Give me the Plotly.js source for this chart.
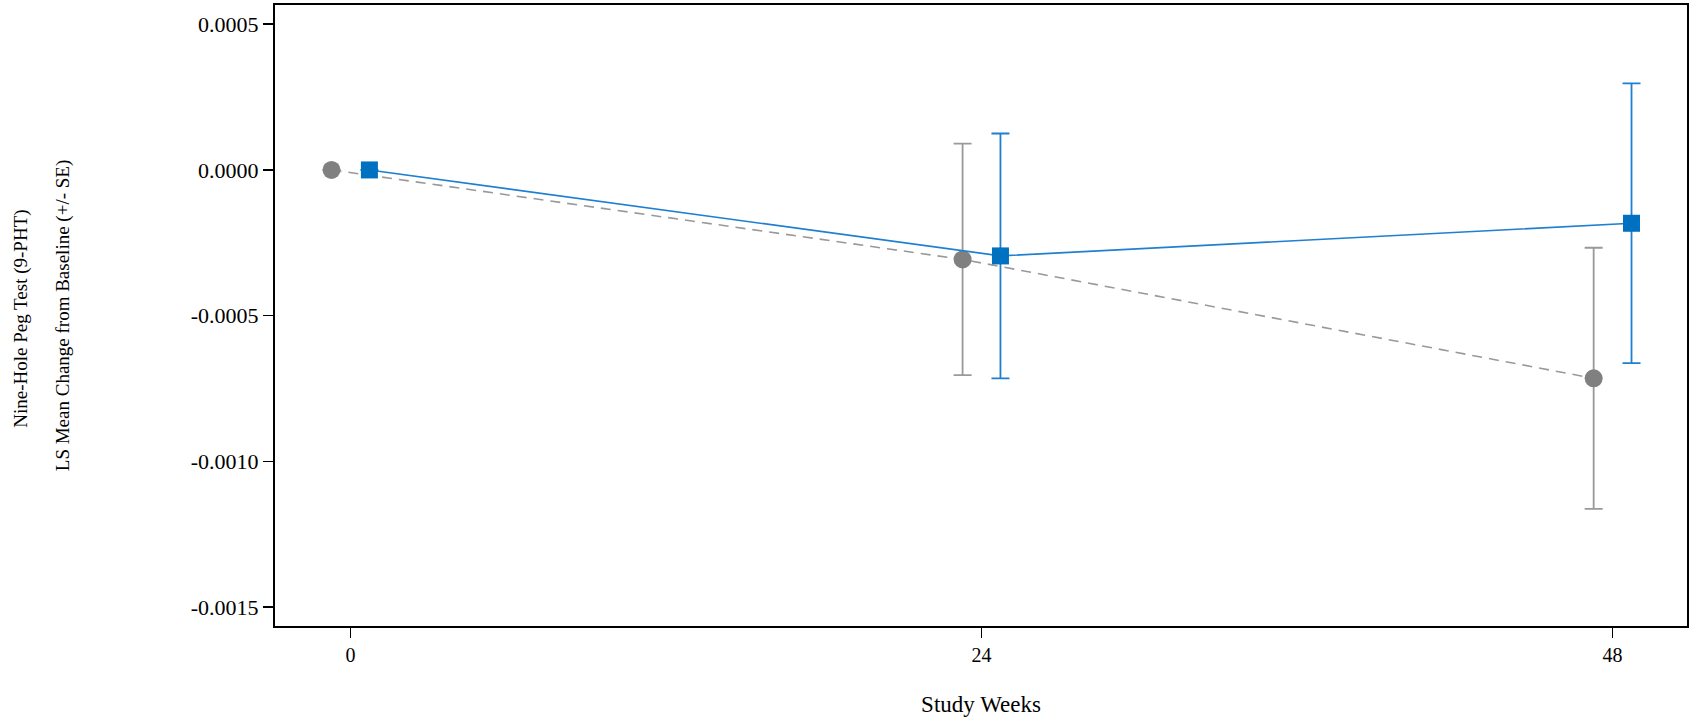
<!DOCTYPE html>
<html>
<head>
<meta charset="utf-8">
<script src="https://cdn.plot.ly/plotly-3.0.1.min.js"></script>
<style>html,body{margin:0;padding:0;background:#fff;}#chart{width:1690px;height:721px;}</style>
</head>
<body>
<div id="chart"></div>
<script>
// Data
const weeks = [0, 24, 48];
const tickLabels = ["0", "24", "48"];
const grayMeans = [0, -0.000307, -0.000715];
const graySE = [0, 0.000397, 0.000448];
const blueMeans = [0, -0.000295, -0.000183];
const blueSE = [0, 0.00042, 0.00048];
const yTickVals = [0.0005, 0, -0.0005, -0.001, -0.0015];
const yTickText = ["0.0005", "0.0000", "-0.0005", "-0.0010", "-0.0015"];
const yTitleLine1 = "Nine-Hole Peg Test (9-PHT)";
const yTitleLine2 = "LS Mean Change from Baseline (+/- SE)";
const xTitle = "Study Weeks";
const dodge = 0.72;

const font = "Liberation Serif, Times New Roman, serif";

const traces = [
  {
    x: weeks.map(w => w - dodge),
    y: grayMeans,
    type: "scatter",
    mode: "lines+markers",
    name: "Group A",
    line: {color: "#999999", width: 1.6, dash: "10px,7px"},
    marker: {symbol: "circle", size: 18, color: "#808080"},
    error_y: {type: "data", array: graySE, visible: true, color: "#999999", thickness: 1.8, width: 9},
    showlegend: false
  },
  {
    x: weeks.map(w => w + dodge),
    y: blueMeans,
    type: "scatter",
    mode: "lines+markers",
    name: "Group B",
    line: {color: "#1f7fd0", width: 1.6},
    marker: {symbol: "square", size: 17, color: "#0070C0"},
    error_y: {type: "data", array: blueSE, visible: true, color: "#1f7fd0", thickness: 1.8, width: 9},
    showlegend: false
  }
];

const layout = {
  width: 1690,
  height: 721,
  margin: {l: 275, r: 3, t: 5, b: 95},
  paper_bgcolor: "#ffffff",
  plot_bgcolor: "#ffffff",
  font: {family: font, color: "#000000", size: 18},
  xaxis: {
    range: [-2.87, 50.83],
    tickvals: weeks,
    ticktext: tickLabels,
    ticks: "outside",
    ticklen: 10,
    tickwidth: 1.5,
    tickcolor: "#000",
    tickfont: {family: font, size: 20, color: "#000"},
    showline: true,
    linecolor: "#000",
    linewidth: 2,
    mirror: true,
    showgrid: false,
    zeroline: false,
    title: {text: xTitle, font: {family: font, size: 23, color: "#000"}, standoff: 31}
  },
  yaxis: {
    range: [-0.001565, 0.000566],
    tickvals: yTickVals,
    ticktext: yTickText,
    ticks: "outside",
    ticklen: 10,
    tickwidth: 1.5,
    tickcolor: "#000",
    tickfont: {family: font, size: 22, color: "#000"},
    showline: true,
    linecolor: "#000",
    linewidth: 2,
    mirror: true,
    showgrid: false,
    zeroline: false,
    title: {
      text: yTitleLine2,
      font: {family: font, size: 19, color: "#000"},
      standoff: 116
    }
  },
  annotations: [
    {
      text: yTitleLine1,
      xref: "paper", yref: "paper",
      x: -0.1795, y: 0.494,
      xanchor: "center", yanchor: "middle",
      textangle: -90,
      showarrow: false,
      font: {family: font, size: 19, color: "#000"}
    }
  ]
};

Plotly.newPlot("chart", traces, layout, {displayModeBar: false, staticPlot: true});
</script>
</body>
</html>
